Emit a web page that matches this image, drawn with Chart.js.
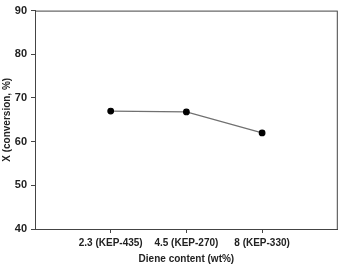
<!DOCTYPE html>
<html>
<head>
<meta charset="utf-8">
<script src="https://cdn.jsdelivr.net/npm/chart.js@4"></script>
<style>
	html, body { margin:0; padding:0; background:#fff; }
	#wrap { position:relative; width:343px; height:265px; }
</style>
</head>
<body>
<div id="wrap"><canvas id="c" width="343" height="265"></canvas></div>
<script>
const categories = ['2.3 (KEP-435)', '4.5 (KEP-270)', '8 (KEP-330)'];
const conversion = [67.0, 66.8, 62.0];
const yTicks = [40, 50, 60, 70, 80, 90];

const points = conversion.map((v, i) => ({x: i + 1, y: v}));

// box around the plot area
const frame = {
	id: 'frame',
	afterDraw(chart) {
		const a = chart.chartArea, ctx = chart.ctx;
		ctx.save();
		ctx.strokeStyle = '#444';
		ctx.lineWidth = 1;
		ctx.strokeRect(a.left + 0.5, a.top + 0.5, a.right - a.left - 1, a.bottom - a.top);
		ctx.restore();
	}
};

const tickFont = { family: 'Liberation Sans, Arial, sans-serif', size: 10, weight: 'bold' };

new Chart(document.getElementById('c'), {
	type: 'line',
	data: {
		datasets: [{
			data: points,
			borderColor: '#707070',
			borderWidth: 1.2,
			pointBackgroundColor: '#000',
			pointBorderColor: '#000',
			pointRadius: 2.8,
			tension: 0,
			fill: false,
		}]
	},
	plugins: [frame],
	options: {
		responsive: false,
		animation: false,
		layout: { padding: { top: 10, right: 4, left: 1, bottom: 0 } },
		plugins: {
			legend: { display: false },
			tooltip: { enabled: false },
		},
		scales: {
			x: {
				type: 'linear',
				min: 0,
				max: 4,
				afterBuildTicks: s => { s.ticks = categories.map((c, i) => ({value: i + 1})); },
				afterFit: s => { s.height = 36; },
				ticks: {
					color: '#222',
					font: tickFont,
					padding: 4,
					maxRotation: 0,
					autoSkip: false,
					callback: v => categories[v - 1] || '',
				},
				grid: { drawOnChartArea: false, tickLength: 4, color: '#444' },
				border: { color: '#444' },
				title: {
					display: true,
					text: 'Diene content (wt%)',
					color: '#222',
					font: tickFont,
					padding: { top: 0, bottom: 0 },
				},
			},
			y: {
				min: 40,
				max: 90,
				afterBuildTicks: s => { s.ticks = yTicks.map(v => ({value: v})); },
				afterFit: s => { s.width = 34; },
				ticks: {
					color: '#222',
					font: { family: 'Liberation Sans, Arial, sans-serif', size: 11, weight: 'bold' },
					padding: 4,
				},
				grid: { drawOnChartArea: false, tickLength: 4, color: '#444' },
				border: { color: '#444' },
				title: {
					display: true,
					text: 'X (conversion, %)',
					color: '#222',
					font: tickFont,
					padding: 0,
				},
			}
		}
	}
});
</script>
</body>
</html>
